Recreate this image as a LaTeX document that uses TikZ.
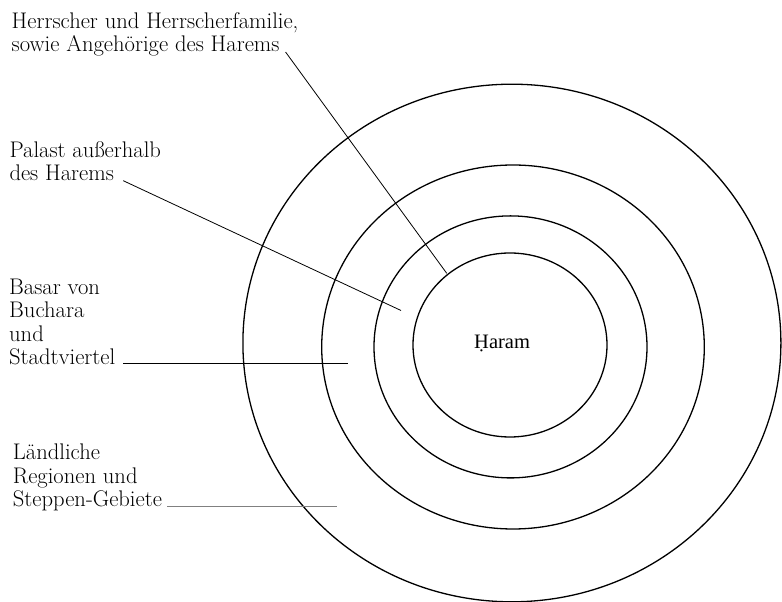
\documentclass[tikz,border=0pt]{standalone}
\usepackage{fontspec}
\newfontfamily\haramfont{Liberation Serif}
\usepackage{tikz}
\usetikzlibrary{positioning, calc}

\begin{document}
\begin{tikzpicture}[x=1pt, y=1pt,
    ring/.style={line width=1.3pt},
    leader/.style={line width=0.8pt},
    lbl/.style={anchor=base west, align=left, inner sep=0pt,
                font=\fontsize{22.6}{23.5}\selectfont}]
    \useasboundingbox (0,0) rectangle (782,602);

    % the four rings, outside to inside
    \draw[ring] (511.9,259) ellipse [x radius=269, y radius=258.8];
    \draw[ring] (513,255) ellipse [x radius=191.3, y radius=182];
    \draw[ring] (510.5,255.1) ellipse [x radius=136.5, y radius=131];
    \draw[ring] (510,257) ellipse [x radius=97, y radius=92];

    \node[anchor=base west, inner sep=0pt,
          font=\haramfont\fontsize{20.5}{24}\selectfont] (haram) at (474,253) {Ḥaram};

    % labels (placed at the baseline of their last line)
    \node[lbl] (herrscher) at (11.5,550) {Herrscher und Herrscherfamilie,\\sowie Angehörige des Harems};
    \node[lbl] (palast) at (9.3,421.3) {Palast außerhalb\\des Harems};
    \node[lbl] (basar) at (9,237) {Basar von\\Buchara\\und\\Stadtviertel};
    \node[lbl] (land) at (12.7,95.3) {Ländliche\\Regionen und\\Steppen-Gebiete};

    % leader ends
    \coordinate (kern) at (446.7,328.7);
    \coordinate (hof) at (401,291.5);
    \coordinate (stadt) at (348.3,238.7);
    \coordinate (steppe) at (337.3,96);

    \draw[leader] ([xshift=-13pt]herrscher.base east) -- (kern);
    \draw[leader] ([xshift=-38pt]palast.base east) -- (hof);
    \draw[leader, shorten <=8pt] (basar.east |- stadt) -- (stadt);
    \draw[leader, gray, shorten <=5pt] (land.east |- steppe) -- (steppe);
\end{tikzpicture}
\end{document}
